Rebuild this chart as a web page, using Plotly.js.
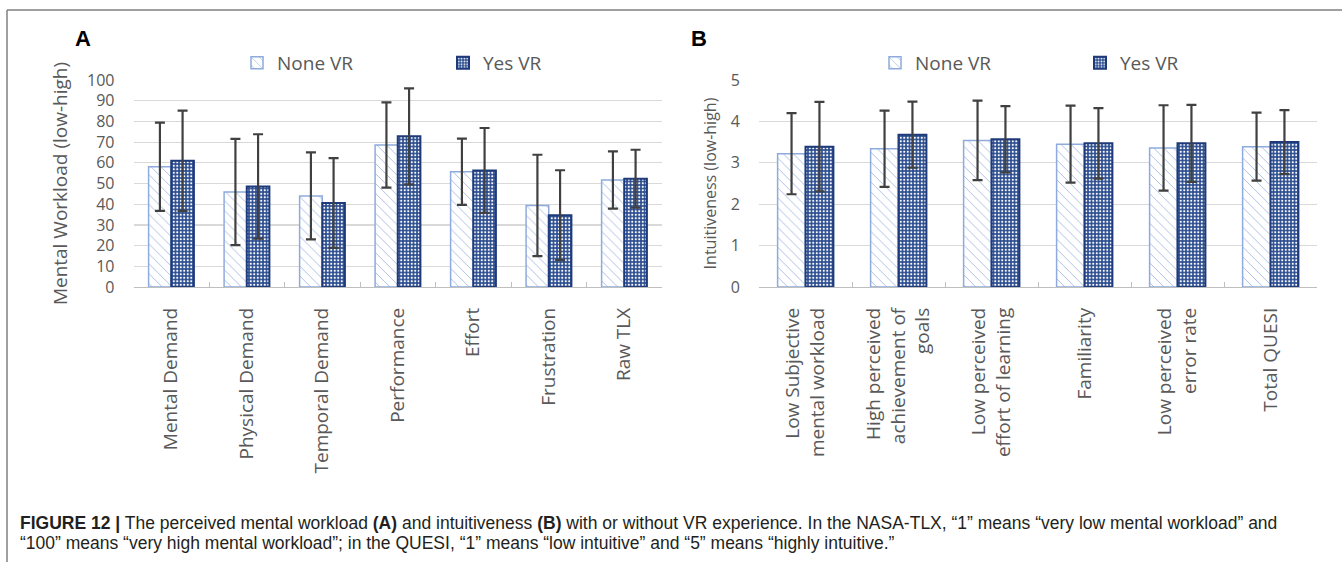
<!DOCTYPE html>
<html>
<head>
<meta charset="utf-8">
<script src="https://cdn.plot.ly/plotly-3.0.1.min.js"></script>
<style>html,body{margin:0;padding:0;background:#fff;}#chart{width:1342px;height:562px;}</style>
</head>
<body>
<div id="chart"></div>
<script>
// ---- Data ----
const categoriesA = ["Mental Demand", "Physical Demand", "Temporal Demand", "Performance", "Effort", "Frustration", "Raw TLX"];
const noneVR_A = [58.1, 45.9, 44.0, 68.6, 55.7, 39.4, 51.7];
const noneVR_A_err = [21.3, 25.7, 21.0, 20.6, 16.0, 24.5, 13.8];
const yesVR_A = [61.0, 48.6, 40.6, 72.8, 56.3, 34.7, 52.3];
const yesVR_A_err = [24.2, 25.2, 21.7, 23.2, 20.5, 21.7, 14.0];

const categoriesB = ["Low Subjective<br>mental workload", "High perceived<br>achievement of<br>goals", "Low perceived<br>effort of learning", "Familiarity", "Low perceived<br>error rate", "Total QUESI"];
const noneVR_B = [3.22, 3.34, 3.54, 3.45, 3.36, 3.39];
const noneVR_B_err = [0.98, 0.92, 0.96, 0.93, 1.03, 0.82];
const yesVR_B = [3.39, 3.68, 3.57, 3.47, 3.47, 3.50];
const yesVR_B_err = [1.08, 0.80, 0.80, 0.85, 0.93, 0.77];

const seriesNames = ["None VR", "Yes VR"];
const ticksA = [0, 10, 20, 30, 40, 50, 60, 70, 80, 90, 100];
const ticksB = [0, 1, 2, 3, 4, 5];

// ---- Styles ----
const W = 1342, H = 562;
const FONT = "Open Sans, Noto Sans, sans-serif";
const GREY = "#595959";
const noneMarker = {
  color: "#ffffff",
  line: {color: "#8FAADC", width: 1.5},
  pattern: {shape: "\\", fgcolor: "#9DB5E2", bgcolor: "#ffffff", size: 7, solidity: 0.12}
};
const yesMarker = {
  color: "#2A4C8F",
  line: {color: "#1F3A7A", width: 2},
  pattern: {shape: ".", fgcolor: "#ffffff", bgcolor: "#2A4C8F", size: 3.5, solidity: 0.3}
};
const errStyle = {color: "#404040", thickness: 2.2, width: 5};

function bar(x, y, err, name, marker, xa, ya, legend) {
  return {
    type: "bar", x: x, y: y, name: name, marker: marker,
    xaxis: xa, yaxis: ya, legend: legend,
    error_y: Object.assign({type: "data", array: err, visible: true}, errStyle),
    hoverinfo: "skip"
  };
}

const data = [
  bar(categoriesA, noneVR_A, noneVR_A_err, seriesNames[0], noneMarker, "x", "y", "legend"),
  bar(categoriesA, yesVR_A, yesVR_A_err, seriesNames[1], yesMarker, "x", "y", "legend2"),
  bar(categoriesB, noneVR_B, noneVR_B_err, seriesNames[0], noneMarker, "x2", "y2", "legend3"),
  bar(categoriesB, yesVR_B, yesVR_B_err, seriesNames[1], yesMarker, "x2", "y2", "legend4")
];

const px = v => v / W;
const py = v => 1 - v / H;
const yDom = [py(287), py(80)];

function xAxis(dom, anchor) {
  return {
    domain: dom, anchor: anchor, type: "category",
    showline: true, linecolor: "#bfbfbf", linewidth: 1.2,
    ticks: "inside", ticklen: 5, tickcolor: "#bfbfbf", tickson: "boundaries",
    tickangle: -90, ticklabelstandoff: 12,
    tickfont: {family: FONT, size: 19, color: GREY},
    showgrid: false, zeroline: false, automargin: false, fixedrange: true
  };
}
function yAxis(anchor, range, ticks, titleText, titleSize, standoff) {
  return {
    domain: yDom, anchor: anchor, range: range,
    tickmode: "array", tickvals: ticks,
    showgrid: true, gridcolor: "#d9d9d9", gridwidth: 1.2,
    showline: false, zeroline: false, ticks: "",
    ticklabelstandoff: 18,
    tickfont: {family: FONT, size: 16, color: GREY},
    title: {text: titleText, font: {family: FONT, size: titleSize, color: GREY}, standoff: standoff},
    automargin: false, fixedrange: true
  };
}
function legendAt(x) {
  return {
    x: px(x), y: py(63), xanchor: "left", yanchor: "middle",
    orientation: "h", bgcolor: "rgba(0,0,0,0)", borderwidth: 0,
    font: {family: FONT, size: 19, color: GREY}
  };
}

const layout = {
  width: W, height: H,
  margin: {l: 0, r: 0, t: 0, b: 0},
  paper_bgcolor: "#ffffff", plot_bgcolor: "rgba(0,0,0,0)",
  barmode: "group", bargap: 0.4, bargroupgap: 0,
  showlegend: true,
  xaxis: xAxis([px(133.5), px(662)], "y"),
  yaxis: yAxis("x", [0, 100], ticksA, "Mental Workload (low-high)", 19, 14),
  xaxis2: xAxis([px(759), px(1317)], "y2"),
  yaxis2: yAxis("x2", [0, 5], ticksB, "Intuitiveness (low-high)", 16, 10),
  legend: legendAt(237),
  legend2: legendAt(443),
  legend3: legendAt(875),
  legend4: legendAt(1080),
  shapes: [
    {type: "line", xref: "paper", yref: "paper", x0: px(7), x1: 1, y0: py(10), y1: py(10), line: {color: "#808080", width: 1.5}},
    {type: "line", xref: "paper", yref: "paper", x0: px(7), x1: px(7), y0: py(10), y1: 0, line: {color: "#808080", width: 1.5}}
  ],
  annotations: [
    {text: "<b>A</b>", xref: "paper", yref: "paper", x: px(83), y: py(39), xanchor: "center", yanchor: "middle", showarrow: false, font: {family: "Liberation Sans, Arial, sans-serif", size: 22, color: "#000"}},
    {text: "<b>B</b>", xref: "paper", yref: "paper", x: px(699), y: py(39), xanchor: "center", yanchor: "middle", showarrow: false, font: {family: "Liberation Sans, Arial, sans-serif", size: 22, color: "#000"}},
    {text: "<b>FIGURE 12 |</b> The perceived mental workload <b>(A)</b> and intuitiveness <b>(B)</b> with or without VR experience. In the NASA-TLX, “1” means “very low mental workload” and",
     xref: "paper", yref: "paper", x: px(18), y: py(523), xanchor: "left", yanchor: "middle", showarrow: false, align: "left",
     font: {family: "Liberation Sans, Arial, sans-serif", size: 17.5, color: "#231f20"}},
    {text: "“100” means “very high mental workload”; in the QUESI, “1” means “low intuitive” and “5” means “highly intuitive.”",
     xref: "paper", yref: "paper", x: px(18), y: py(543), xanchor: "left", yanchor: "middle", showarrow: false, align: "left",
     font: {family: "Liberation Sans, Arial, sans-serif", size: 17.5, color: "#231f20"}}
  ]
};

Plotly.newPlot("chart", data, layout, {displayModeBar: false, staticPlot: true});
</script>
</body>
</html>
